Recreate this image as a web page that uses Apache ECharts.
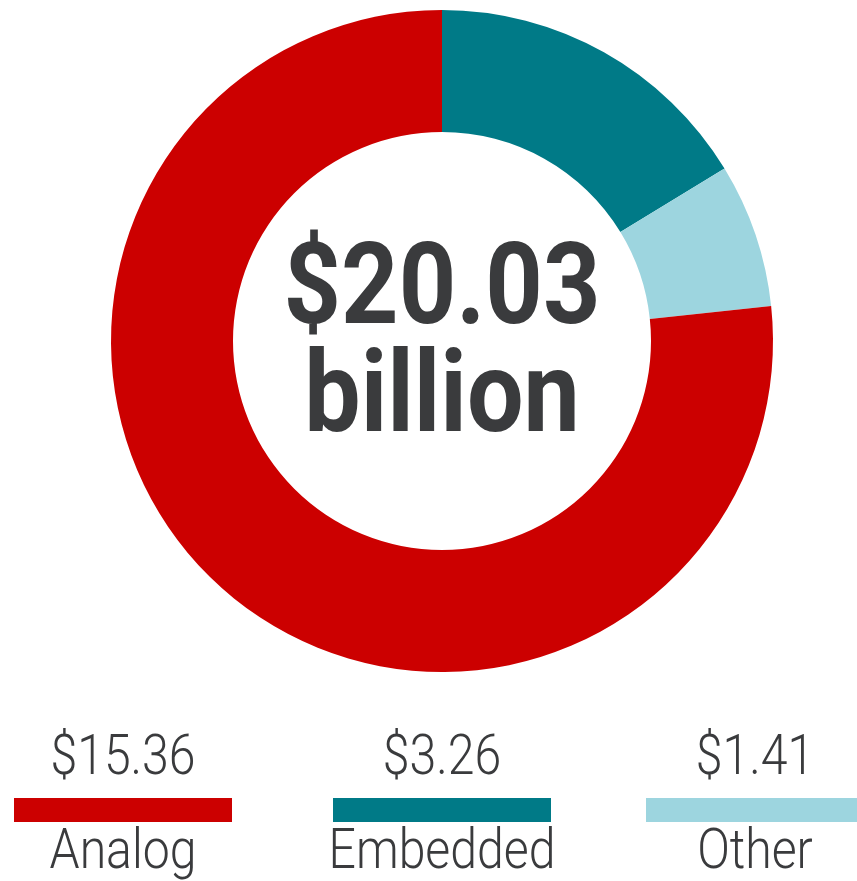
<!DOCTYPE html>
<html>
<head>
<meta charset="utf-8">
<script src="https://cdn.jsdelivr.net/npm/echarts@6/dist/echarts.min.js"></script>
<style>
  html, body { margin: 0; padding: 0; background: #fff; }
  #chart { width: 857px; height: 881px; }
</style>
</head>
<body>
<div id="chart"></div>
<script>
// segment data (billions of $)
const categories = ['Analog', 'Embedded', 'Other'];
const values = [15.36, 3.26, 1.41];
const colors = ['#cc0000', '#007a87', '#9dd5df'];
const totalLabel = ['$20.03', 'billion'];

// ring is drawn clockwise from 12 o'clock: Embedded, Other, then Analog
const pieOrder = [1, 2, 0];

const textColor = '#3a3b3d';
const legendX = [123, 442, 755];

const chart = echarts.init(document.getElementById('chart'));

const graphics = [
  {
    type: 'text', x: 442, y: 294, scaleX: 0.88,
    style: { text: totalLabel[0], font: 'bold 114px Roboto', fill: textColor, align: 'center', verticalAlign: 'middle' }
  },
  {
    type: 'text', x: 442, y: 402, scaleX: 0.88,
    style: { text: totalLabel[1], font: 'bold 114px Roboto', fill: textColor, align: 'center', verticalAlign: 'middle' }
  }
];

categories.forEach((name, i) => {
  graphics.push({
    type: 'text', x: legendX[i], y: 760, scaleX: 0.86,
    style: { text: '$' + values[i].toFixed(2), font: '300 56px Roboto', fill: textColor, align: 'center', verticalAlign: 'middle' }
  });
  graphics.push({
    type: 'rect',
    shape: { x: legendX[i] - 109, y: 798, width: 218, height: 24 },
    style: { fill: colors[i] }
  });
  graphics.push({
    type: 'text', x: legendX[i], y: 854, scaleX: 0.86,
    style: { text: name, font: '300 56px Roboto', fill: textColor, align: 'center', verticalAlign: 'middle' }
  });
});

chart.setOption({
  animation: false,
  series: [
    {
      type: 'pie',
      center: [442, 341],
      radius: [209, 331],
      startAngle: 90,
      clockwise: true,
      silent: true,
      label: { show: false },
      labelLine: { show: false },
      data: pieOrder.map(i => ({
        name: categories[i],
        value: values[i],
        itemStyle: { color: colors[i] }
      }))
    }
  ],
  graphic: graphics
});
</script>
</body>
</html>
